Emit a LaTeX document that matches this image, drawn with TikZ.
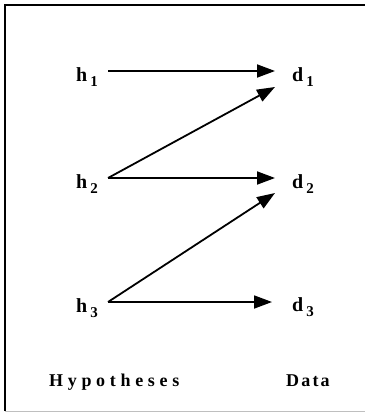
\documentclass[tikz,border=0pt]{standalone}
\usepackage{fontspec}
\setmainfont{Liberation Serif}
\usetikzlibrary{arrows.meta, positioning}

\newcommand{\idx}[1]{\hspace{3pt}\raisebox{-5pt}{\fontsize{15}{15}\selectfont #1}}

\tikzset{
    lbl/.style={font=\fontsize{20}{20}\selectfont\bfseries, inner sep=0pt, anchor=base west},
    foot/.style={font=\fontsize{18}{18}\selectfont\bfseries, inner sep=0pt, anchor=base west},
    arr/.style={-{Triangle[length=18pt,width=13pt]}, line width=1.8pt}
}

\begin{document}
\begin{tikzpicture}[x=1pt, y=-1pt]
        \useasboundingbox (0,0) rectangle (365,417);
        % frame
        \draw[line width=2.6pt] (5,411) -- (5,5) -- (365,5);
        \draw[gray!50, line width=0.8pt] (5,411) -- (365,411);

        \node[lbl] (h1) at (76,82) {h\idx{1}};
        \node[lbl] (h2) at (76,188) {h\idx{2}};
        \node[lbl] (h3) at (76,312) {h\idx{3}};
        \node[lbl] (d1) at (292,82) {d\idx{1}};
        \node[lbl] (d2) at (292,188) {d\idx{2}};
        \node[lbl] (d3) at (292,311) {d\idx{3}};

        \draw[arr] ([xshift=10pt,yshift=11pt]h1.base east) -- ([xshift=-17pt,yshift=11pt]d1.base west);
        \draw[arr] ([xshift=10pt,yshift=10pt]h2.base east) -- ([xshift=-17pt,yshift=-5pt]d1.base west);
        \draw[arr] ([xshift=10pt,yshift=10pt]h2.base east) -- ([xshift=-17pt,yshift=10pt]d2.base west);
        \draw[arr] ([xshift=10pt,yshift=10pt]h3.base east) -- ([xshift=-17pt,yshift=-5pt]d2.base west);
        \draw[arr] ([xshift=10pt,yshift=10pt]h3.base east) -- ([xshift=-20pt,yshift=9pt]d3.base west);

        \node[foot] (hyp) at (49,386) {\addfontfeature{LetterSpace=26}Hypotheses};
        \node[foot] (data) at (286,386) {\addfontfeature{LetterSpace=12}Data};
    \end{tikzpicture}
\end{document}
